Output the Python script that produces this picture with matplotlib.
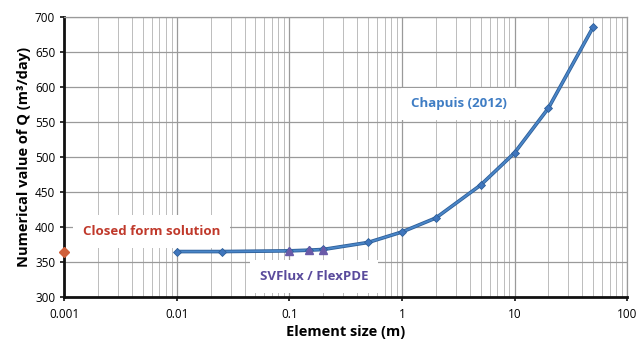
import matplotlib
matplotlib.use("Agg")
import matplotlib.pyplot as plt
from matplotlib.ticker import LogLocator, FixedLocator, FuncFormatter

plt.rcParams['font.family'] = ['Open Sans', 'DejaVu Sans']

# data
chapuis_size = [0.01, 0.025, 0.1, 0.15, 0.2, 0.5, 1, 2, 5, 10, 20, 50]
chapuis_q = [365, 365, 366, 367, 368, 378, 393, 413, 460, 506, 570, 686]
svflux_size = [0.1, 0.15, 0.2]
svflux_q = [366, 367, 367]
closed_size = [0.001]
closed_q = [365]

x_ticks = [0.001, 0.01, 0.1, 1, 10, 100]
x_tick_labels = ["0.001", "0.01", "0.1", "1", "10", "100"]
y_ticks = [300, 350, 400, 450, 500, 550, 600, 650, 700]

fig = plt.figure(figsize=(6.36, 3.43), dpi=100)
ax = fig.add_axes([0.101, 0.134, 0.885, 0.816])

ax.plot(chapuis_size, chapuis_q, color="#2e5f99", lw=2.6, zorder=3, solid_capstyle="round")
ax.plot(chapuis_size, chapuis_q, color="#4a86c8", lw=1.4, marker="D", ms=4.5,
        mfc="#3f76bd", mec="#2e5f99", mew=0.6, zorder=4)
ax.plot(svflux_size, svflux_q, ls="none", marker="^", ms=5.5, color="#6a5aa8", zorder=5)
ax.plot(closed_size, closed_q, ls="none", marker="D", ms=5, color="#d0603a",
        clip_on=False, zorder=6)

ax.set_xscale("log")
ax.set_xlim(0.001, 100)
ax.set_ylim(300, 700)
ax.xaxis.set_major_locator(FixedLocator(x_ticks))
ax.xaxis.set_major_formatter(FuncFormatter(lambda v, p: x_tick_labels[x_ticks.index(v)] if v in x_ticks else ""))
ax.xaxis.set_minor_locator(LogLocator(base=10, subs=range(2, 10)))
ax.xaxis.set_minor_formatter(FuncFormatter(lambda v, p: ""))
ax.set_yticks(y_ticks)

ax.grid(True, which="major", color="#9a9a9a", lw=0.9)
ax.grid(True, which="minor", axis="x", color="#bcbcbc", lw=0.7)
ax.set_axisbelow(True)

for s in ["left", "bottom"]:
    ax.spines[s].set_linewidth(2)
    ax.spines[s].set_color("#111111")
for s in ["top", "right"]:
    ax.spines[s].set_color("#9a9a9a")
    ax.spines[s].set_linewidth(0.9)

ax.tick_params(axis="both", which="major", labelsize=8.5, length=3, width=1.2, color="#111111")
ax.tick_params(axis="x", which="minor", length=0)
ax.tick_params(axis="x", pad=5)

ax.set_xlabel("Element size (m)", fontsize=10.5, fontweight="bold", labelpad=3)
ax.set_ylabel("Numerical value of Q (m³/day)", fontsize=10.5, fontweight="bold", labelpad=3)

box = dict(facecolor="white", edgecolor="none", pad=7)
ax.text(0.00147, 394, "Closed form solution", color="#c0392b", fontsize=9.5,
        fontweight="bold", va="center", bbox=box, zorder=2)
ax.text(0.055, 329, "SVFlux / FlexPDE", color="#5a4b9c", fontsize=9.5,
        fontweight="bold", va="center", bbox=box, zorder=2)
ax.text(1.2, 576, "Chapuis (2012)", color="#3f7dc4", fontsize=9.5,
        fontweight="bold", va="center", bbox=box, zorder=2)

fig.savefig("out.png", dpi=100)
